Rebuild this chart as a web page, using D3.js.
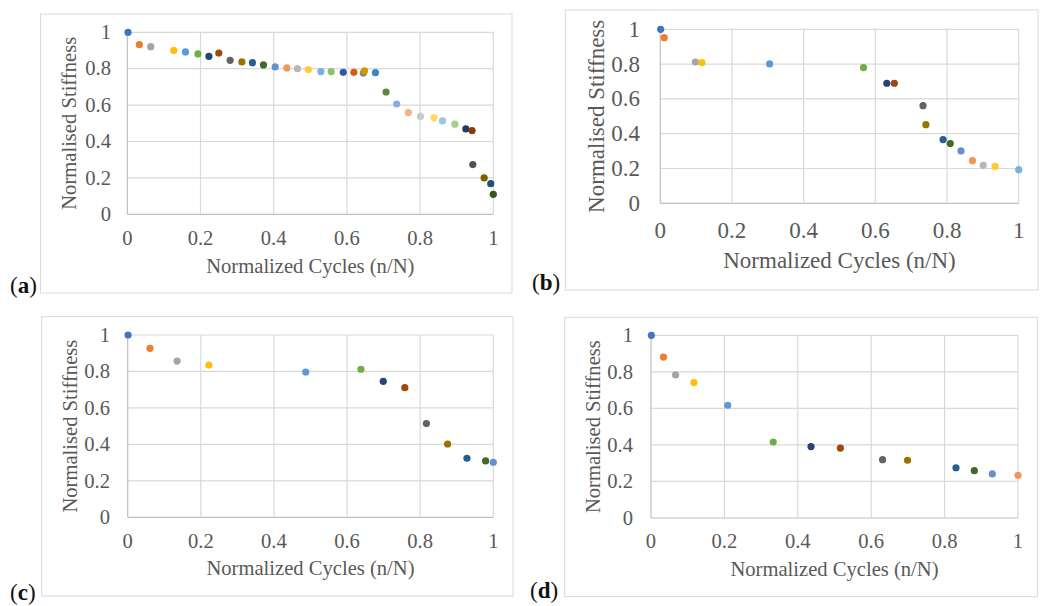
<!DOCTYPE html>
<html>
<head>
<meta charset="utf-8">
<script src="https://cdn.jsdelivr.net/npm/d3@7"></script>
<style>
  body { margin: 0; background: #fff; }
  svg { display: block; }
  text { font-family: "Liberation Serif", "Times New Roman", serif; }
</style>
</head>
<body>
<svg width="1052" height="606"></svg>
<script>
// Excel-style series colours, one per data point
const palette = [
  "#4472C4", "#ED7D31", "#A5A5A5", "#FFC000", "#5B9BD5", "#70AD47",
  "#264478", "#9E480E", "#636363", "#997300", "#255E91", "#43682B",
  "#698ED0", "#F1975A", "#B7B7B7", "#FFCD33", "#7CAFDD", "#8CC168",
  "#335AA1", "#D26012", "#848484", "#CC9A00", "#3C86C4", "#5A8A39",
  "#8FAADC", "#F4B183", "#C9C9C9", "#FFD966", "#9DC3E6", "#A9D18E",
  "#203864", "#843C0C", "#525252", "#7F6000", "#1F4E79", "#375623"
];

const ticks = [0, 0.2, 0.4, 0.6, 0.8, 1];
const xTitle = "Normalized Cycles (n/N)";
const yTitle = "Normalised Stiffness";

// (a)
const aCycles = [0.002, 0.033, 0.064, 0.127, 0.159, 0.193, 0.223, 0.250, 0.281, 0.313, 0.342, 0.372,
  0.404, 0.436, 0.465, 0.495, 0.529, 0.557, 0.590, 0.619, 0.645, 0.648, 0.678, 0.707,
  0.736, 0.768, 0.801, 0.838, 0.861, 0.895, 0.925, 0.942, 0.944, 0.975, 0.993, 1.0];
const aStiffness = [1.0, 0.932, 0.921, 0.901, 0.892, 0.881, 0.868, 0.886, 0.846, 0.837, 0.833, 0.821,
  0.810, 0.804, 0.800, 0.795, 0.784, 0.784, 0.780, 0.780, 0.777, 0.788, 0.778, 0.672,
  0.606, 0.559, 0.538, 0.531, 0.513, 0.495, 0.469, 0.460, 0.273, 0.200, 0.168, 0.110];

// (b)
const bCycles = [0.001, 0.011, 0.098, 0.116, 0.305, 0.567, 0.632, 0.653, 0.733, 0.741, 0.789,
  0.809, 0.839, 0.871, 0.901, 0.934, 1.0];
const bStiffness = [1.0, 0.952, 0.812, 0.808, 0.801, 0.780, 0.690, 0.690, 0.561, 0.452, 0.366,
  0.343, 0.301, 0.245, 0.218, 0.212, 0.193];

// (c)
const cCycles = [0.001, 0.061, 0.135, 0.222, 0.487, 0.638, 0.699, 0.758, 0.817, 0.875, 0.928, 0.979, 1.0];
const cStiffness = [1.0, 0.927, 0.857, 0.835, 0.797, 0.812, 0.746, 0.711, 0.514, 0.402, 0.324, 0.309, 0.302];

// (d)
const dCycles = [0.001, 0.034, 0.067, 0.117, 0.209, 0.333, 0.436, 0.516, 0.631, 0.699, 0.831, 0.881, 0.930, 1.0];
const dStiffness = [1.0, 0.881, 0.783, 0.741, 0.617, 0.416, 0.391, 0.383, 0.319, 0.316, 0.275, 0.259, 0.241, 0.234];

const panels = [
  { tag: "a", xs: aCycles, ys: aStiffness, box: [40.5, 14, 512, 293], plot: [127.3, 32.3, 493.3, 214.3],
    fs: 20.6, yLab: 111, xLab: 245, yTit: 69, xTit: 272.5, tagX: 10, tagY: 293 },
  { tag: "b", xs: bCycles, ys: bStiffness, box: [565.3, 10, 1038, 290], plot: [660.3, 29.3, 1018.7, 203.3],
    fs: 23, yLab: 640, xLab: 238, yTit: 596, xTit: 268, tagX: 532, tagY: 290 },
  { tag: "c", xs: cCycles, ys: cStiffness, box: [41.7, 316.7, 513, 596], plot: [127.7, 335, 493.3, 517.3],
    fs: 20.6, yLab: 110, xLab: 548, yTit: 70, xTit: 575, tagX: 10, tagY: 600 },
  { tag: "d", xs: dCycles, ys: dStiffness, box: [564.7, 317.3, 1037.3, 596.7], plot: [651, 335.3, 1018, 518],
    fs: 20.6, yLab: 633, xLab: 548, yTit: 593, xTit: 576, tagX: 530, tagY: 598 }
];

const svg = d3.select("svg");

panels.forEach(p => {
  const [bx0, by0, bx1, by1] = p.box;
  const [px0, py0, px1, py1] = p.plot;
  const g = svg.append("g");

  g.append("rect")
    .attr("x", bx0).attr("y", by0)
    .attr("width", bx1 - bx0).attr("height", by1 - by0)
    .attr("fill", "white").attr("stroke", "#d9d9d9");

  const x = d3.scaleLinear().domain([0, 1]).range([px0, px1]);
  const y = d3.scaleLinear().domain([0, 1]).range([py1, py0]);

  // gridlines
  g.selectAll(".hg").data(ticks).join("line")
    .attr("x1", px0).attr("x2", px1)
    .attr("y1", d => y(d)).attr("y2", d => y(d))
    .attr("stroke", d => d === 0 ? "#bfbfbf" : "#d9d9d9").attr("stroke-width", 1.2);
  g.selectAll(".vg").data(ticks).join("line")
    .attr("y1", py0).attr("y2", py1)
    .attr("x1", d => x(d)).attr("x2", d => x(d))
    .attr("stroke", d => d === 0 ? "#bfbfbf" : "#d9d9d9").attr("stroke-width", 1.2);

  // tick labels
  g.selectAll(".yt").data(ticks).join("text")
    .attr("x", p.yLab).attr("y", d => y(d)).attr("dy", "0.33em")
    .attr("text-anchor", "end").attr("font-size", p.fs).attr("fill", "#595959")
    .text(d => d3.format("~g")(d));
  g.selectAll(".xt").data(ticks).join("text")
    .attr("x", d => x(d)).attr("y", p.xLab)
    .attr("text-anchor", "middle").attr("font-size", p.fs).attr("fill", "#595959")
    .text(d => d3.format("~g")(d));

  // axis titles
  g.append("text")
    .attr("x", (px0 + px1) / 2).attr("y", p.xTit)
    .attr("text-anchor", "middle").attr("font-size", p.fs).attr("fill", "#595959")
    .text(xTitle);
  g.append("text")
    .attr("transform", `translate(${p.yTit},${(py0 + py1) / 2}) rotate(-90)`)
    .attr("dy", "0.33em")
    .attr("text-anchor", "middle").attr("font-size", p.fs).attr("fill", "#595959")
    .text(yTitle);

  // points
  g.selectAll("circle").data(p.xs.map((v, i) => ({ x: v, y: p.ys[i], c: palette[i] }))).join("circle")
    .attr("cx", d => x(d.x)).attr("cy", d => y(d.y))
    .attr("r", 3.6).attr("fill", d => d.c);

  // panel tag
  const t = g.append("text")
    .attr("x", p.tagX).attr("y", p.tagY)
    .attr("font-size", 23).attr("fill", "#111");
  t.append("tspan").text("(");
  t.append("tspan").attr("font-weight", "bold").text(p.tag);
  t.append("tspan").text(")");
});
</script>
</body>
</html>
